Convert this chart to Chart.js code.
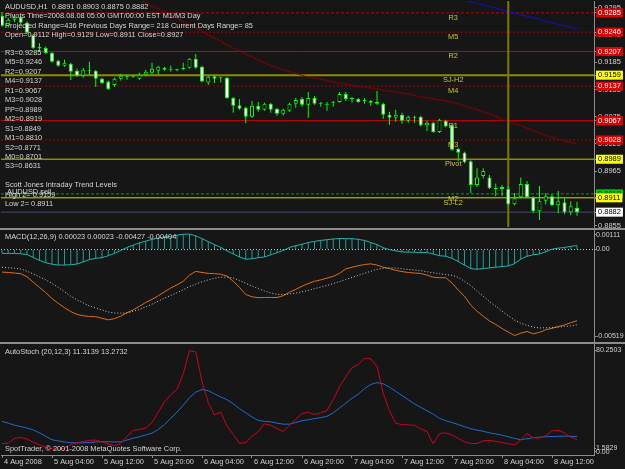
<!DOCTYPE html>
<html>
<head>
<meta charset="utf-8">
<title>AUDUSD,H1</title>
<script src="https://cdn.jsdelivr.net/npm/chart.js@4.4.1/dist/chart.umd.min.js"></script>
<style>
  html, body { margin: 0; padding: 0; background: #161616; }
  #screen { position: relative; width: 625px; height: 469px; overflow: hidden; background: #161616; }
  #screen canvas { position: absolute; left: 0; }
  .split { position: absolute; left: 0; width: 625px; height: 2px; background: #8c8c8c; }
</style>
</head>
<body>
<div id="screen">
  <canvas id="priceChart" width="625" height="228" style="top:0"></canvas>
  <div class="split" style="top:228px"></div>
  <canvas id="macdChart" width="625" height="112" style="top:230px"></canvas>
  <div class="split" style="top:342px"></div>
  <canvas id="stochChart" width="625" height="125" style="top:344px"></canvas>
</div>
<script>
// ---- data (H1 bars, 4 Aug 20:00 .. 8 Aug 16:00) ----
const xTickLabels = ['4 Aug 2008', '5 Aug 04:00', '5 Aug 12:00', '5 Aug 20:00', '6 Aug 04:00', '6 Aug 12:00',
  '6 Aug 20:00', '7 Aug 04:00', '7 Aug 12:00', '7 Aug 20:00', '8 Aug 04:00', '8 Aug 12:00'];
const barsPerTick = 8;

const openPrices = [
  0.9279, 0.9259, 0.9271, 0.9276, 0.9265, 0.9240, 0.9213, 0.9214, 0.9204, 0.9188,
  0.9178, 0.9182, 0.9168, 0.9158, 0.9170, 0.9168, 0.9152, 0.9146, 0.9139, 0.9152,
  0.9156, 0.9156, 0.9152, 0.9160, 0.9164, 0.9168, 0.9174, 0.9170, 0.9169, 0.9171,
  0.9174, 0.9192, 0.9176, 0.9144, 0.9157, 0.9154, 0.9154, 0.9113, 0.9098, 0.9093,
  0.9075, 0.9097, 0.9089, 0.9101, 0.9091, 0.9081, 0.9087, 0.9101, 0.9111, 0.9099,
  0.9113, 0.9103, 0.9101, 0.9103, 0.9105, 0.9121, 0.9111, 0.9111, 0.9107, 0.9107,
  0.9105, 0.9101, 0.9079, 0.9073, 0.9079, 0.9067, 0.9075, 0.9075, 0.9058, 0.9063,
  0.9044, 0.9067, 0.9058, 0.9010, 0.9002, 0.8985, 0.8937, 0.8955, 0.8952, 0.8931,
  0.8933, 0.8929, 0.8898, 0.8912, 0.8939, 0.8912, 0.8884, 0.8905, 0.8914, 0.8896,
  0.8902, 0.8882, 0.8891];
const highPrices = [
  0.9287, 0.9275, 0.9282, 0.9279, 0.9268, 0.9243, 0.9224, 0.9217, 0.9206, 0.9190,
  0.9190, 0.9184, 0.9172, 0.9174, 0.9186, 0.9170, 0.9154, 0.9148, 0.9154, 0.9162,
  0.9160, 0.9158, 0.9164, 0.9170, 0.9184, 0.9178, 0.9176, 0.9178, 0.9172, 0.9184,
  0.9193, 0.9202, 0.9178, 0.9158, 0.9159, 0.9156, 0.9156, 0.9115, 0.9111, 0.9095,
  0.9107, 0.9105, 0.9103, 0.9103, 0.9093, 0.9091, 0.9103, 0.9113, 0.9115, 0.9125,
  0.9117, 0.9105, 0.9105, 0.9107, 0.9125, 0.9125, 0.9115, 0.9113, 0.9113, 0.9109,
  0.9127, 0.9103, 0.9085, 0.9089, 0.9083, 0.9077, 0.9077, 0.9077, 0.9067, 0.9065,
  0.9071, 0.9069, 0.9060, 0.9012, 0.9004, 0.8987, 0.8971, 0.8971, 0.8957, 0.8940,
  0.8937, 0.8935, 0.8921, 0.8952, 0.8945, 0.8914, 0.8935, 0.8921, 0.8918, 0.8925,
  0.8912, 0.8904, 0.8903];
const lowPrices = [
  0.9257, 0.9255, 0.9266, 0.9262, 0.9243, 0.9212, 0.9206, 0.9202, 0.9184, 0.9176,
  0.9176, 0.9149, 0.9156, 0.9154, 0.9160, 0.9135, 0.9141, 0.9129, 0.9135, 0.9148,
  0.9150, 0.9154, 0.9150, 0.9158, 0.9160, 0.9160, 0.9168, 0.9166, 0.9167, 0.9169,
  0.9172, 0.9172, 0.9144, 0.9139, 0.9143, 0.9144, 0.9111, 0.9083, 0.9089, 0.9062,
  0.9073, 0.9085, 0.9087, 0.9083, 0.9077, 0.9077, 0.9085, 0.9093, 0.9095, 0.9073,
  0.9099, 0.9095, 0.9087, 0.9095, 0.9103, 0.9107, 0.9103, 0.9103, 0.9101, 0.9097,
  0.9099, 0.9071, 0.9059, 0.9065, 0.9061, 0.9063, 0.9063, 0.9055, 0.9046, 0.9042,
  0.9042, 0.9053, 0.9006, 0.8985, 0.8981, 0.8921, 0.8933, 0.8950, 0.8929, 0.8914,
  0.8914, 0.8895, 0.8896, 0.8910, 0.8910, 0.8880, 0.8866, 0.8898, 0.8894, 0.8880,
  0.8878, 0.8876, 0.8875];
const closePrices = [
  0.9259, 0.9271, 0.9276, 0.9265, 0.9245, 0.9214, 0.9216, 0.9204, 0.9186, 0.9178,
  0.9184, 0.9166, 0.9158, 0.9170, 0.9168, 0.9152, 0.9143, 0.9131, 0.9152, 0.9158,
  0.9157, 0.9156, 0.9160, 0.9166, 0.9172, 0.9176, 0.9170, 0.9170, 0.9171, 0.9174,
  0.9192, 0.9174, 0.9146, 0.9156, 0.9152, 0.9154, 0.9113, 0.9097, 0.9091, 0.9075,
  0.9097, 0.9089, 0.9101, 0.9089, 0.9081, 0.9089, 0.9101, 0.9109, 0.9099, 0.9113,
  0.9101, 0.9101, 0.9099, 0.9105, 0.9121, 0.9111, 0.9111, 0.9105, 0.9107, 0.9103,
  0.9101, 0.9079, 0.9073, 0.9079, 0.9067, 0.9075, 0.9073, 0.9057, 0.9063, 0.9044,
  0.9069, 0.9055, 0.9008, 0.9002, 0.8983, 0.8937, 0.8952, 0.8965, 0.8931, 0.8929,
  0.8929, 0.8898, 0.8910, 0.8939, 0.8912, 0.8884, 0.8905, 0.8914, 0.8896, 0.8904,
  0.8882, 0.8894, 0.8882];

// slow moving average (dark red, dotted) and fast one leaving the top (blue)
const slowMa = [
  null, null, null, null, null, null, null, null, null, null,
  null, null, null, null, null, null, null, null, null, null,
  null, null, 0.9311, 0.9305, 0.9299, 0.9293, 0.9287, 0.9281, 0.9274, 0.9267,
  0.9261, 0.9255, 0.9249, 0.9240, 0.9234, 0.9228, 0.9220, 0.9214, 0.9208, 0.9202,
  0.9196, 0.9190, 0.9184, 0.9178, 0.9174, 0.9170, 0.9166, 0.9162, 0.9159, 0.9155,
  0.9153, 0.9151, 0.9148, 0.9145, 0.9143, 0.9141, 0.9139, 0.9137, 0.9135, 0.9133,
  0.9131, 0.9129, 0.9127, 0.9125, 0.9123, 0.9121, 0.9118, 0.9115, 0.9113, 0.9111,
  0.9109, 0.9107, 0.9104, 0.9101, 0.9097, 0.9093, 0.9089, 0.9085, 0.9081, 0.9076,
  0.9070, 0.9066, 0.9062, 0.9057, 0.9052, 0.9047, 0.9042, 0.9037, 0.9033, 0.9029,
  0.9026, 0.9023, 0.9020];
const fastMa = [
  null, null, null, null, null, null, null, null, null, null,
  null, null, null, null, null, null, null, null, null, null,
  null, null, null, null, null, null, null, null, null, null,
  null, null, null, null, null, null, null, null, null, null,
  null, null, null, null, null, null, null, null, null, null,
  null, null, null, null, null, null, null, null, null, null,
  null, null, null, null, null, null, null, null, null, null,
  0.9323, 0.9320, 0.9317, 0.9313, 0.9310, 0.9307, 0.9304, 0.9301, 0.9298, 0.9295,
  0.9291, 0.9288, 0.9285, 0.9281, 0.9278, 0.9275, 0.9272, 0.9268, 0.9265, 0.9262,
  0.9259, 0.9256, 0.9253];

// pivot levels drawn across the price pane
const levelNames = ['R3', 'M5', 'R2', 'SJ-H2', 'M4', 'R1', 'M3', 'Pivot', 'M2', 'SJ-L2'];
const levelValues = [0.9285, 0.9246, 0.9207, 0.9159, 0.9137, 0.9067, 0.9028, 0.8989, 0.8919, 0.8911];
const pivotBar = 81;          // 8 Aug 05:00, start of the pivot day
const priceGridTicks = [0.9295, 0.9240, 0.9185, 0.9130, 0.9075, 0.9020, 0.8965, 0.8910, 0.8855];

const headerLines = [
  'AUDUSD,H1  0.8891 0.8903 0.8875 0.8882',
  'Pivots Time=2008.08.08 05:00 GMT/00:00 EST M1/M3 Day',
  'Projected Range=436 Previous Days Range= 218 Current Days Range= 85',
  'Open=0.9112 High=0.9129 Low=0.8911 Close=0.8927'];
const pivotList = ['R3=0.9285', 'M5=0.9246', 'R2=0.9207', 'M4=0.9137', 'R1=0.9067', 'M3=0.9028', 'PP=0.8989',
  'M2=0.8919', 'S1=0.8849', 'M1=0.8810', 'S2=0.8771', 'M0=0.8701', 'S3=0.8631'];
const trendLines = ['Scott Jones Intraday Trend Levels', 'AUDUSD sell', 'High 2= 0.9159', 'Low 2= 0.8911'];

// MACD(12,26,9)
const macdHist = [
  -0.00022, -0.00022, -0.00022, -0.00024, -0.00028, -0.00045, -0.00062, -0.00075, -0.00083, -0.00088,
  -0.00088, -0.00086, -0.00082, -0.00070, -0.00057, -0.00050, -0.00046, -0.00035, -0.00022, -0.00005,
  0.00012, 0.00025, 0.00038, 0.00048, 0.00058, 0.00065, 0.00071, 0.00075, 0.00082, 0.00087,
  0.00088, 0.00078, 0.00062, 0.00045, 0.00028, 0.00012, -0.00008, -0.00025, -0.00042, -0.00055,
  -0.00052, -0.00046, -0.00042, -0.00030, -0.00018, -0.00005, 0.00012, 0.00022, 0.00030, 0.00040,
  0.00046, 0.00052, 0.00056, 0.00060, 0.00063, 0.00062, 0.00062, 0.00058, 0.00052, 0.00040,
  0.00028, 0.00010, 0.00000, -0.00008, -0.00013, -0.00015, -0.00015, -0.00017, -0.00017, -0.00025,
  -0.00035, -0.00038, -0.00050, -0.00068, -0.00088, -0.00108, -0.00112, -0.00108, -0.00104, -0.00100,
  -0.00096, -0.00093, -0.00080, -0.00055, -0.00038, -0.00030, -0.00025, -0.00012, 0.00002, 0.00008,
  0.00012, 0.00018, 0.00023];
const macdMain = [
  -0.00128, -0.00130, -0.00133, -0.00137, -0.00155, -0.00185, -0.00215, -0.00245, -0.00278, -0.00305,
  -0.00330, -0.00352, -0.00368, -0.00376, -0.00380, -0.00381, -0.00390, -0.00399, -0.00392, -0.00378,
  -0.00358, -0.00342, -0.00322, -0.00300, -0.00283, -0.00262, -0.00240, -0.00218, -0.00200, -0.00180,
  -0.00145, -0.00124, -0.00130, -0.00135, -0.00137, -0.00140, -0.00150, -0.00180, -0.00215, -0.00255,
  -0.00268, -0.00273, -0.00272, -0.00272, -0.00272, -0.00262, -0.00242, -0.00226, -0.00208, -0.00193,
  -0.00180, -0.00172, -0.00162, -0.00152, -0.00135, -0.00110, -0.00100, -0.00092, -0.00085, -0.00081,
  -0.00088, -0.00100, -0.00108, -0.00118, -0.00125, -0.00130, -0.00133, -0.00136, -0.00145, -0.00157,
  -0.00160, -0.00160, -0.00190, -0.00230, -0.00265, -0.00315, -0.00350, -0.00378, -0.00405, -0.00425,
  -0.00448, -0.00468, -0.00488, -0.00475, -0.00465, -0.00478, -0.00470, -0.00455, -0.00447, -0.00437,
  -0.00428, -0.00415, -0.00404];
const macdSignal = [
  -0.00100, -0.00103, -0.00106, -0.00110, -0.00123, -0.00138, -0.00155, -0.00172, -0.00192, -0.00215,
  -0.00240, -0.00265, -0.00285, -0.00303, -0.00320, -0.00332, -0.00343, -0.00354, -0.00360, -0.00361,
  -0.00360, -0.00350, -0.00340, -0.00325, -0.00310, -0.00293, -0.00276, -0.00260, -0.00245, -0.00228,
  -0.00210, -0.00196, -0.00183, -0.00172, -0.00163, -0.00157, -0.00156, -0.00162, -0.00175, -0.00192,
  -0.00207, -0.00222, -0.00235, -0.00246, -0.00254, -0.00255, -0.00252, -0.00247, -0.00240, -0.00232,
  -0.00222, -0.00213, -0.00204, -0.00193, -0.00182, -0.00170, -0.00158, -0.00147, -0.00135, -0.00123,
  -0.00112, -0.00106, -0.00104, -0.00105, -0.00109, -0.00113, -0.00116, -0.00120, -0.00126, -0.00132,
  -0.00137, -0.00142, -0.00146, -0.00158, -0.00180, -0.00205, -0.00235, -0.00265, -0.00295, -0.00322,
  -0.00350, -0.00375, -0.00400, -0.00418, -0.00430, -0.00440, -0.00445, -0.00444, -0.00443, -0.00440,
  -0.00437, -0.00433, -0.00427];
const macdAxisLabels = ['0.00111', '0.00', '-0.00519'];
const macdAxisValues = [0.00083, 0, -0.00491];

// AutoStoch (20,12,3)
const stochMain = [
  8.3, 8.5, 12.0, 12.7, 11.5, 9.2, 7.3, 5.6, 4.5, 4.0,
  4.8, 7.5, 8.8, 9.8, 10.6, 10.8, 9.5, 8.0, 6.8, 8.2,
  13.5, 17.8, 18.5, 19.5, 23.5, 31.0, 38.5, 43.5, 47.5, 58.7,
  75.5, 74.5, 53.0, 38.0, 29.0, 31.0, 21.0, 14.8, 8.5, 9.0,
  13.5, 17.0, 22.5, 21.5, 19.0, 17.0, 21.5, 25.8, 30.0, 30.8,
  29.3, 30.5, 32.2, 40.0, 49.5, 56.5, 63.0, 65.4, 70.0, 69.5,
  64.0, 44.5, 32.0, 23.0, 22.0, 21.8, 21.5, 19.0, 17.0, 8.0,
  15.5, 16.0, 14.5, 12.0, 9.5, 8.3, 8.3, 10.2, 10.6, 9.8,
  9.0, 8.2, 7.3, 11.0, 15.5, 12.5, 12.3, 14.0, 17.5, 18.0,
  16.0, 12.8, 11.3];
const stochSignal = [
  24.3, 23.0, 21.5, 20.6, 19.5, 18.2, 16.0, 13.5, 11.0, 10.2,
  9.4, 8.9, 8.8, 8.8, 9.1, 9.4, 9.6, 9.6, 9.4, 9.6,
  10.8, 12.2, 13.2, 14.5, 15.8, 18.5, 22.0, 26.5, 31.0, 36.0,
  41.5, 45.5, 47.3, 46.5, 44.2, 42.0, 40.0, 37.0, 33.5, 30.5,
  27.5, 25.0, 24.3, 24.0, 23.0, 22.3, 22.3, 23.5, 24.8, 25.5,
  26.3, 27.0, 28.0, 30.5, 34.0, 37.5, 41.0, 44.0, 48.0, 51.0,
  52.3, 51.5, 49.0, 46.0, 43.0, 40.0, 37.0, 34.5, 32.0, 29.5,
  26.5, 24.8, 23.5, 22.0, 20.5, 19.0, 18.0, 17.2, 16.0, 15.3,
  14.3, 13.2, 12.0, 11.0, 11.8, 12.5, 12.8, 13.2, 13.4, 13.5,
  13.7, 13.5, 13.3];
const stochAxisLabels = ['80.2503', '1.5829', '0.00'];
const stochAxisValues = [75.9, 4.7, 2.2];

// ---- look ----
const FONT_FAMILY = '"Liberation Sans", Arial, sans-serif';
const TEXT_FONT = '7.4px ' + FONT_FAMILY;
const INFO_TEXT = '#d4d4d4';
const LEVEL_TEXT = '#c8c832';
const AXIS_LINE = '#8c8c8c';
const AXIS_TEXT = '#d0d0d0';
const CANDLE = '#00ff00';

const levelStyles = {
  'R3':    { color: '#c00000', width: 1, dash: [3, 2], tag: 'red' },
  'M5':    { color: '#a80000', width: 1, dash: [2, 2], tag: 'red' },
  'R2':    { color: '#d00000', width: 1, dash: [], tag: 'red' },
  'SJ-H2': { color: '#8c8c00', width: 2, dash: [], tag: 'yellow' },
  'M4':    { color: '#a80000', width: 1, dash: [2, 2], tag: 'red' },
  'R1':    { color: '#d00000', width: 1, dash: [], tag: 'red' },
  'M3':    { color: '#a80000', width: 1, dash: [2, 2], tag: 'red' },
  'Pivot': { color: '#8c8c00', width: 1.5, dash: [], tag: 'yellow' },
  'M2':    { color: '#00a000', width: 1, dash: [3, 2], tag: 'green' },
  'SJ-L2': { color: '#d8d800', width: 1, dash: [], tag: 'yellow' }
};
const tagColors = {
  red: { bg: '#e00000', text: '#ffffff' },
  yellow: { bg: '#ffff00', text: '#000000' },
  green: { bg: '#00c800', text: '#000000' },
  white: { bg: '#ffffff', text: '#000000' }
};

Chart.defaults.font.family = FONT_FAMILY;
Chart.defaults.font.size = 7.4;
Chart.defaults.animation = false;
Chart.defaults.plugins.legend.display = false;
Chart.defaults.plugins.tooltip.enabled = false;
Chart.defaults.elements.point.radius = 0;
Chart.defaults.elements.line.tension = 0;
Chart.defaults.elements.line.borderWidth = 1;

const X_MIN = -0.16, X_MAX = 94.72;
const PRICE_MIN = 0.8852, PRICE_MAX = 0.9309;
const lastClose = closePrices[closePrices.length - 1];

const pts = arr => arr.map((v, i) => ({ x: i, y: v }));
const flat = v => [{ x: X_MIN, y: v }, { x: X_MAX, y: v }];
const hiddenX = () => ({ type: 'linear', min: X_MIN, max: X_MAX, offset: false, display: false });
const fixWidth = s => { s.width = 31; s.paddingTop = 0; s.paddingBottom = 0; };

// ---- price pane ----
const tagByValue = new Map();
levelNames.forEach((n, k) => tagByValue.set(levelValues[k].toFixed(4), tagColors[levelStyles[n].tag]));
tagByValue.set(lastClose.toFixed(4), tagColors.white);
const priceAxisTicks = priceGridTicks.concat(levelValues, [lastClose]);

const priceDatasets = [
  {
    type: 'bar', order: 0, grouped: false, maxBarThickness: 4, minBarLength: 1,
    data: openPrices.map((o, i) => ({ x: i, y: [o, closePrices[i]] })),
    backgroundColor: openPrices.map((o, i) => closePrices[i] >= o ? '#000000' : '#ffffff'),
    borderColor: CANDLE, borderWidth: 1, borderSkipped: false
  },
  {
    type: 'bar', order: 1, grouped: false, maxBarThickness: 1,
    data: lowPrices.map((l, i) => ({ x: i, y: [l, highPrices[i]] })),
    backgroundColor: CANDLE, borderWidth: 0
  },
  {
    type: 'bar', order: 2, grouped: false, maxBarThickness: 2,
    data: [{ x: pivotBar, y: [PRICE_MIN, PRICE_MAX] }],
    backgroundColor: '#7a7a00', borderWidth: 0
  },
  { type: 'line', order: 4, data: pts(slowMa), borderColor: '#8a0000', borderWidth: 1.5, borderDash: [2, 1] },
  { type: 'line', order: 4, data: pts(fastMa), borderColor: '#1010c8', borderWidth: 1 },
  { type: 'line', order: 5, data: flat(lastClose), borderColor: '#3c4c6c', borderWidth: 1 }
];
levelNames.forEach((n, k) => {
  const st = levelStyles[n];
  priceDatasets.push({ type: 'line', order: 5, data: flat(levelValues[k]), borderColor: st.color, borderWidth: st.width, borderDash: st.dash });
});

const priceOverlay = {
  id: 'priceOverlay',
  afterDatasetsDraw(chart) {
    const { ctx, scales: { x, y } } = chart;
    ctx.save();
    ctx.font = TEXT_FONT;
    ctx.textBaseline = 'middle';
    ctx.textAlign = 'center';
    ctx.fillStyle = LEVEL_TEXT;
    levelNames.forEach((n, k) => ctx.fillText(n, x.getPixelForValue(72.2), y.getPixelForValue(levelValues[k]) + 5));
    ctx.textAlign = 'left';
    ctx.fillStyle = INFO_TEXT;
    headerLines.forEach((t, k) => ctx.fillText(t, 5, 7 + k * 9.4));
    pivotList.forEach((t, k) => ctx.fillText(t, 5, 53 + k * 9.45));
    ctx.fillText(trendLines[0], 5, 185);
    ctx.fillText(trendLines[1], 7, 192);
    ctx.fillText(trendLines[2], 5, 195);
    ctx.fillText(trendLines[3], 5, 204);
    ctx.restore();
  }
};

new Chart(document.getElementById('priceChart'), {
  type: 'bar',
  data: { datasets: priceDatasets },
  options: {
    responsive: false,
    layout: { padding: { left: 1, top: 1, bottom: 1, right: 0 } },
    scales: {
      x: hiddenX(),
      y: {
        position: 'right', min: PRICE_MIN, max: PRICE_MAX,
        afterBuildTicks: s => { s.ticks = priceAxisTicks.map(v => ({ value: v })); },
        afterFit: fixWidth,
        ticks: {
          autoSkip: false, padding: 1, font: { size: 7.5 },
          callback: v => v.toFixed(4),
          color: c => { const t = tagByValue.get(c.tick.value.toFixed(4)); return t ? t.text : AXIS_TEXT; },
          showLabelBackdrop: c => tagByValue.has(c.tick.value.toFixed(4)),
          backdropColor: c => { const t = tagByValue.get(c.tick.value.toFixed(4)); return t ? t.bg : 'rgba(0,0,0,0)'; },
          backdropPadding: { left: 2, right: 2, top: 0, bottom: 0 }
        },
        grid: { drawOnChartArea: false, tickLength: 3, color: AXIS_LINE },
        border: { color: AXIS_LINE }
      }
    }
  },
  plugins: [priceOverlay]
});

// ---- MACD pane ----
const macdOverlay = {
  id: 'macdOverlay',
  afterDatasetsDraw(chart) {
    const ctx = chart.ctx;
    ctx.save();
    ctx.font = TEXT_FONT;
    ctx.textBaseline = 'middle';
    ctx.fillStyle = INFO_TEXT;
    ctx.fillText('MACD(12,26,9) 0.00023 0.00023 -0.00427 -0.00404', 5, 7);
    ctx.restore();
  }
};

new Chart(document.getElementById('macdChart'), {
  type: 'bar',
  data: {
    datasets: [
      { type: 'line', order: 0, data: pts(macdSignal), borderColor: '#c8c8c8', borderDash: [1, 2] },
      { type: 'line', order: 1, data: pts(macdMain), borderColor: '#dc6e14' },
      { type: 'line', order: 2, data: pts(macdHist), borderColor: '#20b2aa' },
      { type: 'bar', order: 3, grouped: false, maxBarThickness: 1, data: pts(macdHist), backgroundColor: '#1c9c96', borderWidth: 0 },
      { type: 'line', order: 4, data: flat(0), borderColor: '#c8c8c8', borderDash: [1, 2] }
    ]
  },
  options: {
    responsive: false,
    layout: { padding: { left: 1, top: 0, bottom: 1, right: 0 } },
    scales: {
      x: hiddenX(),
      y: {
        position: 'right', min: -0.00519, max: 0.00111,
        afterBuildTicks: s => { s.ticks = macdAxisValues.map(v => ({ value: v })); },
        afterFit: fixWidth,
        ticks: { autoSkip: false, padding: 0, font: { size: 7 }, color: AXIS_TEXT, callback: (v, i) => macdAxisLabels[i] },
        grid: { drawOnChartArea: false, tickLength: 2, color: AXIS_LINE },
        border: { color: AXIS_LINE }
      }
    }
  },
  plugins: [macdOverlay]
});

// ---- AutoStoch pane ----
const stochOverlay = {
  id: 'stochOverlay',
  afterDatasetsDraw(chart) {
    const ctx = chart.ctx;
    ctx.save();
    ctx.font = TEXT_FONT;
    ctx.textBaseline = 'middle';
    ctx.fillStyle = INFO_TEXT;
    ctx.fillText('AutoStoch (20,12,3) 11.3139 13.2732', 5, 8);
    ctx.fillText('SpotTrader, \u00a9 2001-2008 MetaQuotes Software Corp.', 5, 105);
    ctx.restore();
  }
};

new Chart(document.getElementById('stochChart'), {
  type: 'line',
  data: {
    datasets: [
      { data: pts(stochMain), borderColor: '#d00020' },
      { data: pts(stochSignal), borderColor: '#1c6cd0' }
    ]
  },
  options: {
    responsive: false,
    layout: { padding: { left: 1, top: 0, bottom: 0, right: 0 } },
    scales: {
      x: {
        type: 'linear', min: X_MIN, max: X_MAX, offset: false,
        afterBuildTicks: s => { s.ticks = xTickLabels.map((_, k) => ({ value: k * barsPerTick })); },
        afterFit: s => { s.height = 14; s.paddingLeft = 0; s.paddingRight = 0; },
        ticks: {
          autoSkip: false, maxRotation: 0, align: 'start', padding: 0, labelOffset: 2, color: AXIS_TEXT,
          callback: v => xTickLabels[Math.round(v / barsPerTick)]
        },
        grid: { drawOnChartArea: false, tickLength: 3, color: AXIS_LINE },
        border: { color: AXIS_LINE }
      },
      y: {
        position: 'right', min: 0, max: 80.2503,
        afterBuildTicks: s => { s.ticks = stochAxisValues.map(v => ({ value: v })); },
        afterFit: fixWidth,
        ticks: { autoSkip: false, padding: 0, font: { size: 7 }, color: AXIS_TEXT, callback: (v, i) => stochAxisLabels[i] },
        grid: { drawOnChartArea: false, tickLength: 2, color: AXIS_LINE },
        border: { color: AXIS_LINE }
      }
    }
  },
  plugins: [stochOverlay]
});
</script>
</body>
</html>
